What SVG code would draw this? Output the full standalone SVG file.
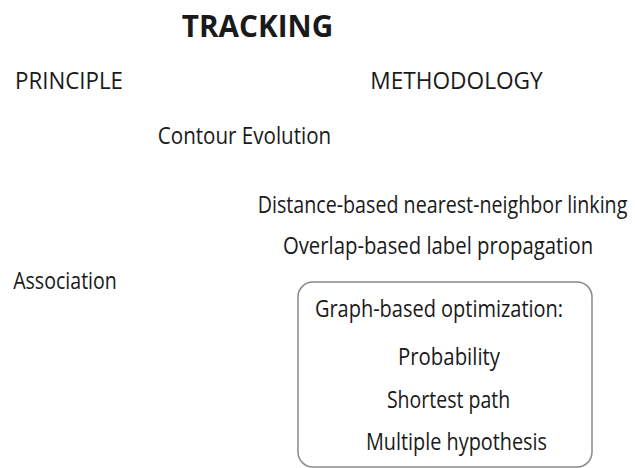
<svg xmlns="http://www.w3.org/2000/svg" width="635" height="468" viewBox="0 0 635 468">
<style>
text{font-family:"Open Sans","Noto Sans","Liberation Sans",sans-serif;font-size:24px;fill:#1a1a1a;text-anchor:middle}
.title{font-weight:bold;font-size:30px}
.box{fill:none;stroke:#8a8a8a;stroke-width:1.5}
</style>
<rect width="635" height="468" fill="#fff"/>
<g id="title"><text class="title" transform="translate(257.5,37) scale(0.85,1)" textLength="178" lengthAdjust="spacingAndGlyphs">TRACKING</text></g>
<g id="principle"><text transform="translate(69,89) scale(0.85,1)" textLength="127" lengthAdjust="spacingAndGlyphs">PRINCIPLE</text></g>
<g id="methodology"><text transform="translate(456.5,89) scale(0.85,1)" textLength="203" lengthAdjust="spacingAndGlyphs">METHODOLOGY</text></g>
<g id="contour"><text transform="translate(244.5,144) scale(0.85,1)" textLength="204" lengthAdjust="spacingAndGlyphs">Contour Evolution</text></g>
<g id="distance"><text transform="translate(442.5,213) scale(0.78,1)" textLength="474" lengthAdjust="spacingAndGlyphs">Distance-based nearest-neighbor linking</text></g>
<g id="overlap"><text transform="translate(438,254) scale(0.85,1)" textLength="365" lengthAdjust="spacingAndGlyphs">Overlap-based label propagation</text></g>
<g id="association"><text transform="translate(65,289) scale(0.85,1)" textLength="122" lengthAdjust="spacingAndGlyphs">Association</text></g>
<g id="graph">
<rect class="box" x="298" y="282" width="294" height="185" rx="15" ry="15"/>
<text transform="translate(439,317) scale(0.85,1)" textLength="292" lengthAdjust="spacingAndGlyphs">Graph-based optimization:</text>
<text transform="translate(449,365) scale(0.85,1)" textLength="120" lengthAdjust="spacingAndGlyphs">Probability</text>
<text transform="translate(448.5,408) scale(0.85,1)" textLength="145" lengthAdjust="spacingAndGlyphs">Shortest path</text>
<text transform="translate(456.5,450) scale(0.85,1)" textLength="213" lengthAdjust="spacingAndGlyphs">Multiple hypothesis</text>
</g>
<g id="connectors"></g>
</svg>
